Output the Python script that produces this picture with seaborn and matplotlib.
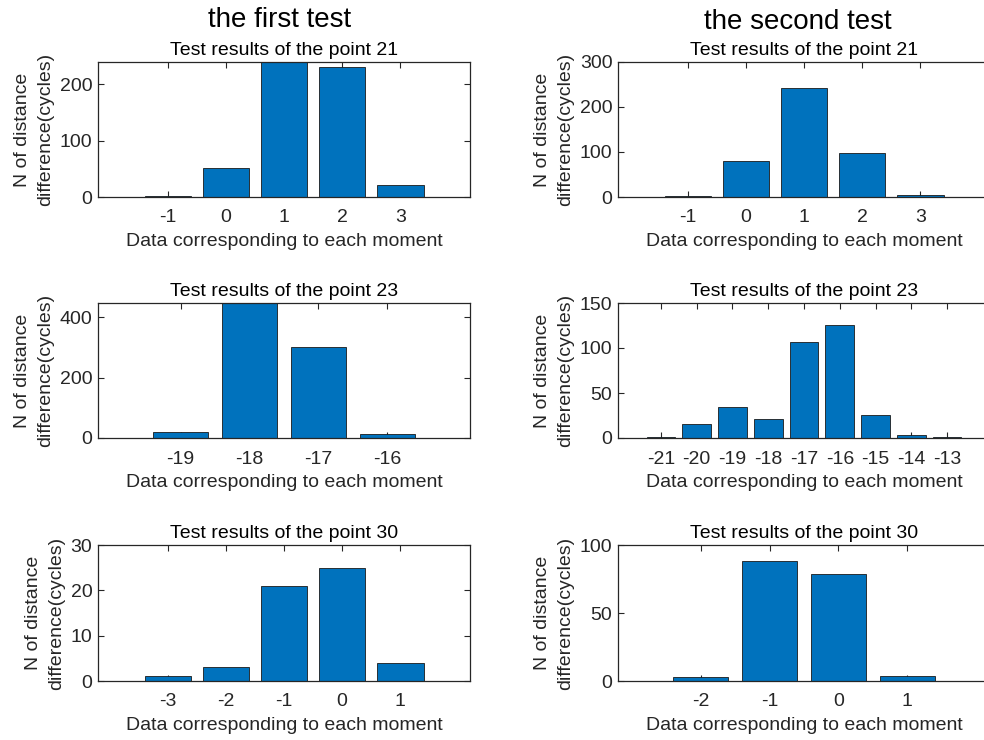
import matplotlib
matplotlib.use("Agg")
import matplotlib.pyplot as plt
import seaborn as sns
import pandas as pd

# --- data -------------------------------------------------------------
first_p21_x = [-1, 0, 1, 2, 3]
first_p21_n = [1, 52, 240, 231, 21]

first_p23_x = [-19, -18, -17, -16]
first_p23_n = [20, 448, 301, 12]

first_p30_x = [-3, -2, -1, 0, 1]
first_p30_n = [1, 3, 21, 25, 4]

second_p21_x = [-1, 0, 1, 2, 3]
second_p21_n = [3, 80, 242, 97, 4]

second_p23_x = [-21, -20, -19, -18, -17, -16, -15, -14, -13]
second_p23_n = [1, 16, 35, 21, 107, 126, 26, 3, 1]

second_p30_x = [-2, -1, 0, 1]
second_p30_n = [3, 88, 79, 4]

column_titles = ["the first test", "the second test"]
panel_titles = ["Test results of the point 21",
                "Test results of the point 23",
                "Test results of the point 30"]
y_limits = [[240, 300], [448, 150], [30, 100]]
y_ticks = [[[0, 100, 200], [0, 100, 200, 300]],
           [[0, 200, 400], [0, 50, 100, 150]],
           [[0, 10, 20, 30], [0, 50, 100]]]

panels = [[(first_p21_x, first_p21_n), (second_p21_x, second_p21_n)],
          [(first_p23_x, first_p23_n), (second_p23_x, second_p23_n)],
          [(first_p30_x, first_p30_n), (second_p30_x, second_p30_n)]]

# --- style ------------------------------------------------------------
sns.set_theme(style="white")
plt.rcParams["font.family"] = ["Liberation Sans", "DejaVu Sans"]
plt.rcParams["font.size"] = 14
text_col = "#262626"
bar_col = "#0072BD"

W, H = 984, 740
fig = plt.figure(figsize=(W / 100, H / 100), dpi=100)
fig.patch.set_facecolor("white")

col_left = [98, 618]
ax_w = 372
row_top = [62, 303, 545]
row_bot = [197, 438, 681]

for r in range(3):
    for c in range(2):
        x0 = col_left[c] / W
        y0 = (H - row_bot[r]) / H
        h = (row_bot[r] - row_top[r]) / H
        ax = fig.add_axes([x0, y0, ax_w / W, h])
        xs, ns = panels[r][c]
        df = pd.DataFrame({"moment": xs, "count": ns})
        sns.barplot(data=df, x="moment", y="count", native_scale=True,
                    color=bar_col, saturation=1, edgecolor="#1a1a1a",
                    linewidth=0.6, width=0.8, errorbar=None, ax=ax)
        ax.set_xlim(min(xs) - 1.2, max(xs) + 1.2)
        ax.set_ylim(0, y_limits[r][c])
        ax.set_xticks(xs)
        ax.set_xticklabels([str(v) for v in xs])
        ax.set_yticks(y_ticks[r][c])
        ax.tick_params(axis="both", direction="in", length=4, width=0.8,
                       colors=text_col, labelsize=14,
                       top=True, right=True, bottom=True, left=True)
        ax.tick_params(axis="x", pad=9)
        ax.tick_params(axis="y", pad=4)
        for s in ax.spines.values():
            s.set_visible(True)
            s.set_color(text_col)
            s.set_linewidth(0.9)
        ax.set_xlabel("Data corresponding to each moment", fontsize=14,
                      color=text_col, labelpad=4.5)
        ax.set_ylabel("N of distance\ndifference(cycles)", fontsize=14,
                      color=text_col, labelpad=4, linespacing=1.5)
        ax.set_title(panel_titles[r], fontsize=14, color="black", pad=5)
        ax.grid(False)

fig.text(280 / W, 1 - 20 / H, column_titles[0], ha="center", va="center",
         fontsize=20, color="black")
fig.text(798 / W, 1 - 22 / H, column_titles[1], ha="center", va="center",
         fontsize=20, color="black")

fig.savefig("out.png", dpi=100, facecolor="white")
